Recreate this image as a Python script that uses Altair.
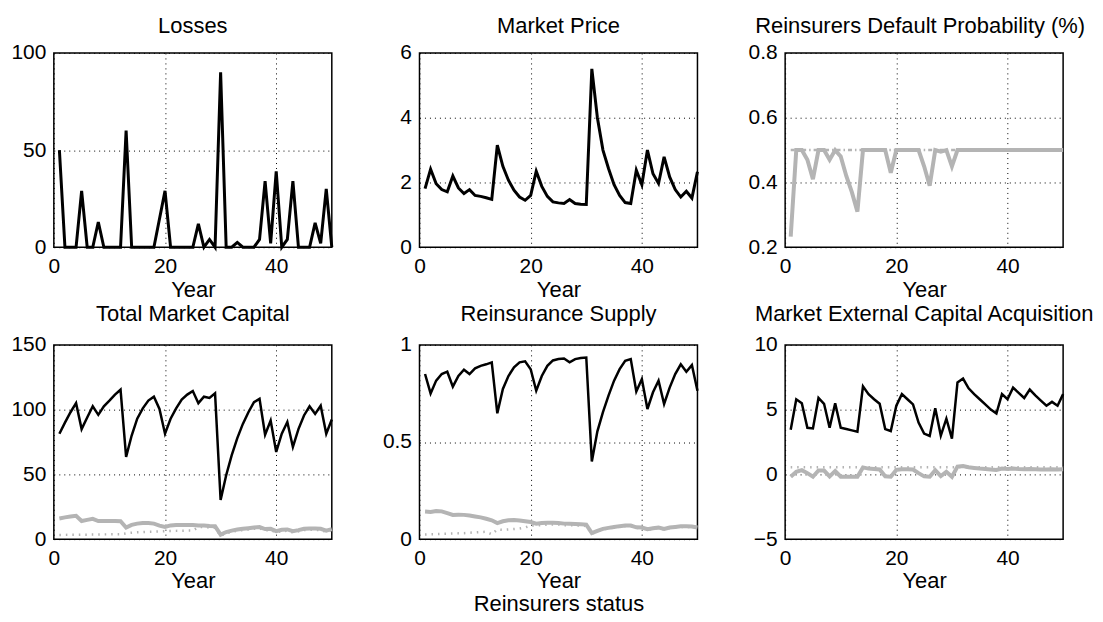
import altair as alt
import pandas as pd

years = list(range(1, 51))

losses = [50, 0, 0, 0, 29, 0, 0, 13, 0, 0, 0, 0, 60, 0, 0, 0, 0, 0, 14.5, 29,
          0, 0, 0, 0, 0, 12, 0, 4, 0, 90, 0, 0, 2.5, 0, 0, 0, 4, 34, 2, 39,
          0, 4, 34, 0, 0, 0, 12.5, 2, 30, 0]

market_price = [1.81, 2.41, 1.96, 1.78, 1.71, 2.2, 1.83, 1.66, 1.78, 1.6,
                1.57, 1.53, 1.48, 3.15, 2.5, 2.07, 1.76, 1.55, 1.45, 1.6,
                2.35, 1.88, 1.57, 1.4, 1.37, 1.35, 1.47, 1.35, 1.33, 1.32,
                5.51, 4.0, 3.0, 2.43, 1.93, 1.6, 1.38, 1.35, 2.38, 1.93,
                3.0, 2.27, 1.97, 2.79, 2.17, 1.78, 1.55, 1.73, 1.52, 2.33]

default_prob = [0.233, 0.5, 0.5, 0.47, 0.41, 0.5, 0.5, 0.47, 0.5, 0.48,
                0.42, 0.37, 0.31, 0.5, 0.5, 0.5, 0.5, 0.5, 0.43, 0.5,
                0.5, 0.5, 0.5, 0.5, 0.45, 0.39, 0.5, 0.495, 0.5, 0.45,
                0.5, 0.5, 0.5, 0.5, 0.5, 0.5, 0.5, 0.5, 0.5, 0.5,
                0.5, 0.5, 0.5, 0.5, 0.5, 0.5, 0.5, 0.5, 0.5, 0.5]
default_prob_ref = [0.5] * 50

capital_total = [81.4, 90, 98, 105, 85, 94, 102.6, 96, 102.6, 107,
                 111.6, 115.4, 63.5, 80, 93, 101, 107, 110, 100.6, 81.4,
                 93, 101, 107.8, 111.6, 114.4, 105, 110, 109, 112.6, 30.2,
                 49.4, 64.8, 78, 89, 98, 105.7, 108.3, 80.6, 91.6, 67.3,
                 81.4, 90.4, 71.2, 85, 95.5, 102.6, 96.7, 103, 81.4, 92.4]
capital_gray = [16, 16.8, 17.5, 18, 14, 14.9, 15.7, 14, 14, 14,
                14, 13.8, 9, 11, 12, 12.5, 12.5, 12, 10.5, 9.5,
                10.6, 11, 11, 11, 11, 10.5, 10.5, 10.2, 10, 3.5,
                5.5, 6.6, 7.5, 8, 8.5, 9, 9.3, 7.8, 8, 6.2,
                7.2, 7.5, 6.2, 7, 8, 8.2, 8.2, 8, 6.6, 7.8]
capital_dotted = [3.2, 3.3, 3.4, 3.4, 3.5, 3.5, 3.6, 3.6, 3.7, 3.7,
                  3.8, 3.8, 4.5, 5.0, 5.3, 5.5, 5.7, 5.8, 6.0, 6.2,
                  6.3, 6.4, 6.5, 6.6, 6.6, 9.3, 9.3, 9.0, 8.8, 2.5,
                  4.5, 5.6, 6.5, 7.0, 7.5, 8.0, 8.3, 6.8, 7.0, 5.2,
                  6.2, 6.5, 5.2, 6.0, 7.0, 7.2, 7.2, 7.0, 5.6, 6.8]

supply_total = [0.85, 0.75, 0.816, 0.85, 0.862, 0.785, 0.84, 0.872, 0.85, 0.879,
                0.892, 0.90, 0.91, 0.648, 0.773, 0.84, 0.884, 0.91, 0.915, 0.875,
                0.764, 0.84, 0.892, 0.92, 0.927, 0.93, 0.91, 0.927, 0.932, 0.935,
                0.40, 0.555, 0.654, 0.739, 0.816, 0.875, 0.918, 0.927, 0.76, 0.824,
                0.67, 0.756, 0.816, 0.696, 0.78, 0.85, 0.90, 0.862, 0.896, 0.764]
supply_gray = [0.142, 0.14, 0.145, 0.143, 0.134, 0.125, 0.126, 0.125, 0.122, 0.117,
               0.112, 0.105, 0.097, 0.083, 0.092, 0.097, 0.099, 0.096, 0.092, 0.088,
               0.08, 0.083, 0.085, 0.084, 0.083, 0.08, 0.079, 0.078, 0.077, 0.075,
               0.031, 0.043, 0.053, 0.058, 0.063, 0.067, 0.07, 0.07, 0.061, 0.06,
               0.051, 0.056, 0.06, 0.053, 0.06, 0.063, 0.066, 0.066, 0.065, 0.06]
supply_dotted = [0.024, 0.025, 0.026, 0.027, 0.028, 0.029, 0.03, 0.031, 0.033, 0.035,
                 0.037, 0.038, 0.025, 0.05, 0.048, 0.05, 0.052, 0.055, 0.06, 0.07,
                 0.07, 0.073, 0.075, 0.075, 0.075, 0.072, 0.072, 0.071, 0.07, 0.068,
                 0.028, 0.04, 0.05, 0.055, 0.06, 0.064, 0.067, 0.067, 0.058, 0.057,
                 0.048, 0.053, 0.057, 0.05, 0.057, 0.06, 0.063, 0.063, 0.062, 0.057]

external_total = [3.45, 5.8, 5.5, 3.6, 3.55, 5.9, 5.45, 3.6, 5.5, 3.6,
                  3.5, 3.4, 3.3, 6.8, 6.2, 5.8, 5.45, 3.5, 3.35, 5.3,
                  6.2, 5.8, 5.4, 4.0, 3.15, 2.97, 5.1, 3.0, 4.3, 2.76,
                  7.1, 7.4, 6.65, 6.2, 5.8, 5.4, 5.0, 4.7, 6.2, 5.8,
                  6.7, 6.3, 5.9, 6.55, 6.1, 5.7, 5.3, 5.6, 5.3, 6.2]
external_gray = [-0.18, 0.2, 0.33, 0.1, -0.18, 0.3, 0.3, -0.15, 0.26, -0.18,
                 -0.18, -0.18, -0.18, 0.54, 0.45, 0.42, 0.38, -0.15, -0.18, 0.35,
                 0.4, 0.4, 0.38, 0.1, -0.15, -0.18, 0.33, -0.13, 0.2, -0.18,
                 0.6, 0.64, 0.55, 0.5, 0.45, 0.42, 0.38, 0.35, 0.45, 0.42,
                 0.45, 0.42, 0.4, 0.42, 0.4, 0.38, 0.38, 0.4, 0.38, 0.4]
external_dotted = [0.55] * 50

FONT = "Liberation Sans"
GRAY = "#b4b4b4"
PW, PH = 279, 195


def frame(values):
    return pd.DataFrame({"year": years, "value": values})


def panel(title, ydom, yticks, black=None, gray=None, dotted=None,
          dash=(1.5, 5), bw=3.0, xtitle="Year", toff=4, tdx=0):
    x = alt.X("year:Q", scale=alt.Scale(domain=[0, 50], nice=False, zero=False),
              axis=alt.Axis(values=[0, 20, 40], title=xtitle, format="~r"))
    y = alt.Y("value:Q", scale=alt.Scale(domain=ydom, nice=False, zero=False),
              axis=alt.Axis(values=yticks, title=None, format="~r"))
    layers = []
    if dotted is not None:
        layers.append(alt.Chart(frame(dotted)).mark_line(
            color=GRAY, strokeWidth=2.5, strokeDash=list(dash)).encode(x=x, y=y))
    if gray is not None:
        layers.append(alt.Chart(frame(gray)).mark_line(
            color=GRAY, strokeWidth=4).encode(x=x, y=y))
    if black is not None:
        layers.append(alt.Chart(frame(black)).mark_line(
            color="black", strokeWidth=bw).encode(x=x, y=y))
    return alt.layer(*layers).properties(
        width=PW, height=PH, title=alt.TitleParams(text=title, offset=toff, dx=tdx))


p1 = panel("Losses", [0, 100], [0, 50, 100], black=losses)
p2 = panel("Market Price", [0, 6], [0, 2, 4, 6], black=market_price)
p3 = panel("Reinsurers Default Probability (%)", [0.2, 0.8], [0.2, 0.4, 0.6, 0.8],
           gray=default_prob, dotted=default_prob_ref, dash=(4, 3, 1.5, 3), tdx=-4)
p4 = panel("Total Market Capital", [0, 150], [0, 50, 100, 150],
           black=capital_total, gray=capital_gray, dotted=capital_dotted, bw=2.5,
           toff=8)
p5 = panel("Reinsurance Supply", [0, 1], [0, 0.5, 1],
           black=supply_total, gray=supply_gray, dotted=supply_dotted, bw=2.5,
           xtitle=["Year", "Reinsurers status"], toff=8)
p6 = panel("Market External Capital Acquisition", [-5, 10], [-5, 0, 5, 10],
           black=external_total, gray=external_gray, dotted=external_dotted, bw=2.5,
           toff=8)

chart = alt.concat(p1, p2, p3, p4, p5, p6, columns=3,
                   spacing={"row": 98, "column": 88}, bounds="flush").properties(
    padding={"left": 2, "top": 5, "right": 0, "bottom": 0}
).configure_view(
    stroke="black", strokeWidth=1.5
).configure_axis(
    labelFont=FONT, titleFont=FONT, labelFontSize=21, titleFontSize=22,
    titleFontWeight="normal", labelColor="black", titleColor="black",
    grid=True, gridColor="black", gridDash=[1, 4], gridOpacity=1, gridWidth=1,
    ticks=False, domain=False, labelPadding=8, titlePadding=3,
    labelFlush=False, titleLineHeight=23
).configure_title(
    font=FONT, fontSize=22, fontWeight="normal", color="black"
)

chart.save("out.html", embed_options={"renderer": "svg", "actions": False})
